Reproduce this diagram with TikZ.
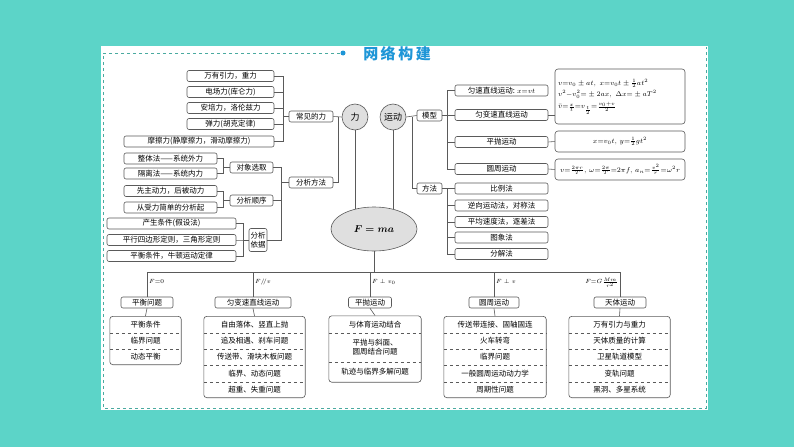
\documentclass[tikz,border=0pt]{standalone}
\usepackage{fontspec}
\setmainfont{Noto Sans CJK SC}
\usetikzlibrary{shapes.geometric,fit,calc}
\definecolor{bgc}{RGB}{92,212,200}
\definecolor{tb}{RGB}{30,150,215}
\definecolor{ln}{RGB}{90,90,90}
\tikzset{
 bx/.style={draw=ln,rounded corners=2pt,line width=0.6pt,inner sep=0.5pt,minimum height=11pt,font=\fontsize{7.5}{9}\selectfont,align=center},
 row/.style={inner sep=0pt,minimum height=16pt,font=\fontsize{7.5}{9}\selectfont,align=center},
 ci/.style={circle,draw=ln,fill=gray!25,line width=0.6pt,minimum size=26pt,inner sep=0pt,font=\fontsize{9}{10}\selectfont},
 cn/.style={ln,line width=0.6pt},
 fbox/.style={draw=ln,rounded corners=3pt,line width=0.6pt,inner sep=1pt,minimum width=130pt,font=\fontsize{7}{8}\selectfont},
 lab/.style={anchor=west,inner sep=1pt,font=\fontsize{6.5}{8}\selectfont}
}
\begin{document}
\begin{tikzpicture}[x=1pt,y=-1pt]
\useasboundingbox (0,0) rectangle (794,447);
\fill[bgc] (0,0) rectangle (794,447);
\fill[white] (101,46) rectangle (708,410);
\draw[bgc!80!black,dashed,line width=0.6pt] (340,53) -- (103,53) -- (103,408) -- (706,408) -- (706,47);
\fill[tb] (343,53) circle (2.5);
\node[text=tb,font=\fontsize{15}{16}\selectfont\bfseries] (title) at (397,54) {网\,络\,构\,建};
% left top group
\node[bx,minimum width=87pt] (a1) at (230.5,76) {万有引力，重力};
\node[bx,minimum width=87pt] (a2) at (230.5,92) {电场力(库仑力)};
\node[bx,minimum width=87pt] (a3) at (230.5,108) {安培力，洛伦兹力};
\node[bx,minimum width=87pt] (a4) at (230.5,124) {弹力(胡克定律)};
\node[bx,minimum width=150pt] (a5) at (199,141.5) {摩擦力(静摩擦力，滑动摩擦力)};
\node[bx,minimum width=44pt] (cjl) at (311,116.5) {常见的力};
\node[ci] (li) at (355,117) {力};
\node[ci] (yd) at (393,117) {运动};
\node[ellipse,draw=ln,fill=gray!25,line width=0.6pt,minimum width=86pt,minimum height=44pt,font=\fontsize{10}{11}\selectfont\boldmath] (fma) at (374,229) {$F=ma$};
\foreach \n in {a1,a2,a3,a4,a5} \draw[cn] (\n.east) -| ([xshift=-5pt]cjl.west) -- (cjl.west);
\draw[cn] (cjl.east) -- (li.west);
% analysis
\node[bx,minimum width=44pt] (fxff) at (311,182.5) {分析方法};
\node[bx,minimum width=43pt] (dx) at (251.5,167.5) {对象选取};
\node[bx,minimum width=43pt] (sx) at (251.5,200.5) {分析顺序};
\node[bx,minimum width=18pt,minimum height=23pt,font=\fontsize{7.5}{9}\selectfont] (yj) at (258,240) {分析\\依据};
\node[bx,minimum width=93pt] (b1) at (170.5,158.5) {整体法——系统外力};
\node[bx,minimum width=93pt] (b2) at (170.5,173.5) {隔离法——系统内力};
\node[bx,minimum width=93pt] (b3) at (170.5,191) {先主动力，后被动力};
\node[bx,minimum width=93pt] (b4) at (170.5,207.5) {从受力简单的分析起};
\node[bx,minimum width=129pt] (c1) at (171.5,223.5) {产生条件(假设法)};
\node[bx,minimum width=129pt] (c2) at (171.5,240) {平行四边形定则，三角形定则};
\node[bx,minimum width=129pt] (c3) at (171.5,256) {平衡条件，牛顿运动定律};
\foreach \n in {b1,b2} \draw[cn] (\n.east) -| ([xshift=-6pt]dx.west) -- (dx.west);
\foreach \n in {b3,b4} \draw[cn] (\n.east) -| ([xshift=-6pt]sx.west) -- (sx.west);
\foreach \n in {c1,c2,c3} \draw[cn] (\n.east) -| ([xshift=-5pt]yj.west) -- (yj.west);
\foreach \n in {dx,sx,yj} \draw[cn] (\n.east) -| ([xshift=-7pt]fxff.west) -- (fxff.west);
\draw[cn] (fxff.east) -| ([xshift=-3pt]li.west);
% right side
\node[bx,minimum width=25pt] (mx) at (429.5,115.5) {模型};
\node[bx,minimum width=25pt] (ff) at (429.5,188.5) {方法};
\draw[cn] (yd.east) -- (mx.west);
\draw[cn] ([xshift=6pt]yd.east) |- (ff.west);
\node[bx,minimum width=93pt] (m1) at (501.5,90.5) {匀速直线运动: $x{=}vt$};
\node[bx,minimum width=93pt] (m2) at (501.5,115) {匀变速直线运动};
\node[bx,minimum width=93pt] (m3) at (501.5,142) {平抛运动};
\node[bx,minimum width=93pt] (m4) at (501.5,169) {圆周运动};
\foreach \n in {m1,m2,m3,m4} \draw[cn] (mx.east) -- ++(5,0) |- (\n.west);
\node[bx,minimum width=93pt] (f1) at (501.5,188.5) {比例法};
\node[bx,minimum width=93pt] (f2) at (501.5,205.5) {逆向运动法，对称法};
\node[bx,minimum width=93pt] (f3) at (501.5,222) {平均速度法，逐差法};
\node[bx,minimum width=93pt] (f4) at (501.5,237.5) {图象法};
\node[bx,minimum width=93pt] (f5) at (501.5,254) {分解法};
\foreach \n in {f1,f2,f3,f4,f5} \draw[cn] (ff.east) -- ++(5,0) |- (\n.west);
\node[fbox,minimum height=55pt,align=left,text width=124pt] (g1) at (620,96.5) {$v{=}v_0\pm at,\ x{=}v_0t\pm\frac12at^2$\\[2pt]$v^2{-}v_0^2{=}\pm2ax,\ \Delta x{=}\pm aT^2$\\[2pt]$\bar v{=}\frac{x}{t}{=}v_{\frac t2}{=}\frac{v_0+v}{2}$};
\node[fbox,minimum height=21pt] (g2) at (620,141.5) {$x{=}v_0t,\,y{=}\frac12gt^2$};
\node[fbox,minimum height=21pt] (g3) at (620,169.5) {$v{=}\frac{2\pi r}{T},\,\omega{=}\frac{2\pi}{T}{=}2\pi f,\,a_n{=}\frac{v^2}{r}{=}\omega^2r$};
\draw[cn] (m2.east) -- (m2.east -| g1.west);
\draw[cn] (m3.east) -- (g2.west);
\draw[cn] (m4.east) -- (g3.west);
\draw[cn] (li.south) -- (li.south |- fma.134);
\draw[cn] (yd.south) -- (yd.south |- fma.46);
% bottom
\coordinate (hub) at (374,272);
\draw[cn] (fma.south) -- (hub);
\node[bx,minimum width=52pt] (t1) at (147,302.5) {平衡问题};
\node[bx,minimum width=76pt] (t2) at (253,302.5) {匀变速直线运动};
\node[bx,minimum width=43pt] (t3) at (370,302.5) {平抛运动};
\node[bx,minimum width=50pt] (t4) at (494,302.5) {圆周运动};
\node[bx,minimum width=52pt] (t5) at (620,302.5) {天体运动};
\foreach \n/\l in {t1/{$F{=}0$},t2/{$F/\!/v$},t3/{$F\perp v_0$},t4/{$F\perp v$}} {
 \draw[cn] (\n.north) |- (hub);
 \node[lab] at ([yshift=15pt,xshift=1pt]\n.north) {\l};
}
\draw[cn] (t5.north) |- (hub);
\node[lab,anchor=east] at ([yshift=14pt,xshift=-1pt]t5.north) {$F{=}G\frac{Mm}{r^2}$};
% sub boxes
\node[row,minimum width=71pt] (p1) at (145.5,324.5) {平衡条件};
\node[row,minimum width=71pt] (p2) at (145.5,340.5) {临界问题};
\node[row,minimum width=71pt] (p3) at (145.5,356.5) {动态平衡};
\node[row,minimum width=101pt] (q1) at (254.5,324.5) {自由落体、竖直上抛};
\node[row,minimum width=101pt] (q2) at (254.5,340.5) {追及相遇、刹车问题};
\node[row,minimum width=101pt] (q3) at (254.5,356.5) {传送带、滑块木板问题};
\node[row,minimum width=101pt] (q4) at (254.5,373.5) {临界、动态问题};
\node[row,minimum width=101pt] (q5) at (254.5,389.5) {超重、失重问题};
\node[row,minimum width=92pt,minimum height=17pt] (s1) at (375,324.5) {与体育运动结合};
\node[row,minimum width=92pt,minimum height=29pt] (s2) at (375,347.5) {平抛与斜面、\\圆周结合问题};
\node[row,minimum width=92pt,minimum height=20pt] (s3) at (375,372) {轨迹与临界多解问题};
\node[row,minimum width=102pt] (u1) at (495,324.5) {传送带连接、固轴固连};
\node[row,minimum width=102pt] (u2) at (495,340.5) {火车转弯};
\node[row,minimum width=102pt] (u3) at (495,356.5) {临界问题};
\node[row,minimum width=102pt] (u4) at (495,373.5) {一般圆周运动动力学};
\node[row,minimum width=102pt] (u5) at (495,389.5) {周期性问题};
\node[row,minimum width=101pt] (w1) at (619.5,324.5) {万有引力与重力};
\node[row,minimum width=101pt] (w2) at (619.5,340.5) {天体质量的计算};
\node[row,minimum width=101pt] (w3) at (619.5,356.5) {卫星轨道模型};
\node[row,minimum width=101pt] (w4) at (619.5,373.5) {变轨问题};
\node[row,minimum width=101pt] (w5) at (619.5,389.5) {黑洞、多星系统};
\node[fit=(p1)(p3),draw=ln,rounded corners=3pt,line width=0.6pt,inner sep=0pt] (P) {};
\node[fit=(q1)(q5),draw=ln,rounded corners=3pt,line width=0.6pt,inner sep=0pt] (Q) {};
\node[fit=(s1)(s3),draw=ln,rounded corners=3pt,line width=0.6pt,inner sep=0pt] (S) {};
\node[fit=(u1)(u5),draw=ln,rounded corners=3pt,line width=0.6pt,inner sep=0pt] (U) {};
\node[fit=(w1)(w5),draw=ln,rounded corners=3pt,line width=0.6pt,inner sep=0pt] (W) {};
\foreach \n in {p1,p2,q1,q2,q3,q4,s1,s2,u1,u2,u3,u4,w1,w2,w3,w4}
 \draw[ln,dashed,line width=0.4pt] (\n.south west) -- (\n.south east);
\draw[cn] (t1.south) -- (P.north);
\draw[cn] (t2.south) -- (Q.north);
\draw[cn] (t3.south) -- (S.north);
\draw[cn] (t4.south) -- (U.north);
\draw[cn] (t5.south) -- (W.north);
\end{tikzpicture}
\end{document}
